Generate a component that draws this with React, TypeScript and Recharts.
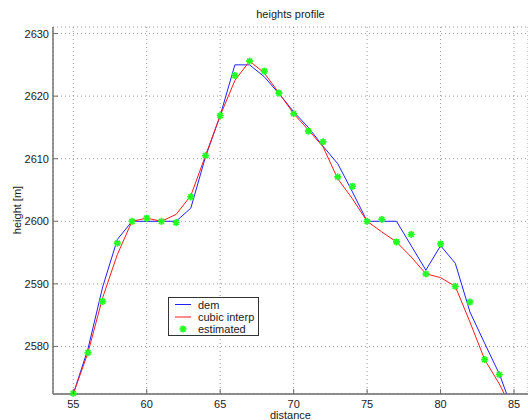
import React from "react";
import {
  ComposedChart,
  Line,
  Scatter,
  XAxis,
  YAxis,
  CartesianGrid,
} from "recharts";

const distance = [55, 56, 57, 58, 59, 60, 61, 62, 63, 64, 65, 66, 67, 68, 69, 70, 71, 72, 73, 74, 75, 76, 77, 78, 79, 80, 81, 82, 83, 84, 85];
const dem = [2572.4, 2579.6, 2589.5, 2597.1, 2600, 2600, 2600, 2600, 2602.1, 2610.3, 2616.9, 2625.0, 2625.0, 2623.1, 2620.4, 2617.5, 2615.0, 2612.0, 2609.2, 2604.7, 2600, 2600, 2600, 2596.1, 2592.2, 2596.1, 2593.3, 2585.5, 2580.5, 2575.6, 2569.2];
const cubicInterp = [2572.4, 2579.0, 2587.8, 2594.7, 2600.0, 2600.5, 2600.0, 2601.1, 2604.1, 2610.5, 2616.9, 2622.5, 2625.6, 2623.7, 2620.5, 2617.2, 2614.6, 2611.9, 2606.8, 2603.6, 2600.0, 2598.3, 2596.7, 2594.3, 2591.6, 2591.0, 2589.6, 2583.9, 2577.9, 2574.0, 2569.3];
const estimated = [2572.5, 2579.0, 2587.2, 2596.5, 2600.0, 2600.5, 2600.0, 2599.8, 2603.9, 2610.5, 2616.9, 2623.3, 2625.6, 2624.0, 2620.5, 2617.2, 2614.4, 2612.7, 2607.1, 2605.6, 2600.0, 2600.3, 2596.7, 2597.9, 2591.6, 2596.4, 2589.6, 2587.1, 2577.9, 2575.5];

const xTicks = [55, 60, 65, 70, 75, 80, 85];
const yTicks = [2580, 2590, 2600, 2610, 2620, 2630];

const lineData = distance.map((d, i) => ({ x: d, dem: dem[i], interp: cubicInterp[i] }));
const estData = estimated.map((v, i) => ({ x: distance[i], est: v }));

const FONT = '"Liberation Sans", Arial, Helvetica, sans-serif';
const AXIS = "#6a6a6a";
const TXT = "#1a1a1a";
const BLUE = "#2020ff";
const RED = "#ff1a1a";
const GREEN = "#22ff22";
const X_DOMAIN = [53.62, 85.95];
const Y_DOMAIN = [2572.4, 2631.05];

const BottomTick = (props: any) => {
  const { x, y, payload } = props;
  return (
    <g>
      <line x1={x} x2={x} y1={y} y2={y - 5} stroke={AXIS} strokeWidth={1} />
      <text x={x} y={y + 13.5} textAnchor="middle" fontSize={11} fontFamily={FONT} fill={TXT}>
        {payload.value}
      </text>
    </g>
  );
};

const TopTick = (props: any) => {
  const { x, y } = props;
  return <line x1={x} x2={x} y1={y} y2={y + 5} stroke={AXIS} strokeWidth={1} />;
};

const LeftTick = (props: any) => {
  const { x, y, payload } = props;
  return (
    <g>
      <line x1={x} x2={x + 5} y1={y} y2={y} stroke={AXIS} strokeWidth={1} />
      <text x={x - 4} y={y + 4} textAnchor="end" fontSize={11} fontFamily={FONT} fill={TXT}>
        {payload.value}
      </text>
    </g>
  );
};

const Asterisk = (props: any) => {
  const { cx, cy } = props;
  if (cx == null || cy == null) return null;
  const r = 3.5;
  const d = r * 0.72;
  return (
    <g stroke={GREEN} strokeWidth={1.8}>
      <line x1={cx - r} x2={cx + r} y1={cy} y2={cy} />
      <line x1={cx} x2={cx} y1={cy - r} y2={cy + r} />
      <line x1={cx - d} x2={cx + d} y1={cy - d} y2={cy + d} />
      <line x1={cx - d} x2={cx + d} y1={cy + d} y2={cy - d} />
    </g>
  );
};

export default function App() {
  return (
    <div style={{ position: "absolute", left: 0, top: 0, width: 528, height: 420, background: "#fff", fontFamily: FONT }}>
      <ComposedChart
        width={528}
        height={420}
        margin={{ top: 27, right: 0, bottom: 0, left: 8 }}
        data={lineData}
      >
        <CartesianGrid stroke="#999" strokeDasharray="1 3" vertical={true} horizontal={true} />
        <XAxis
          xAxisId={0}
          dataKey="x"
          type="number"
          domain={X_DOMAIN}
          ticks={xTicks}
          height={26}
          tickSize={0}
          tickMargin={0}
          tickLine={false}
          tick={<BottomTick />}
          axisLine={{ stroke: AXIS, strokeWidth: 1.4 }}
          interval={0}
        />
        <XAxis
          xAxisId="top"
          orientation="top"
          dataKey="x"
          type="number"
          domain={X_DOMAIN}
          ticks={xTicks}
          height={0}
          tickSize={0}
          tickMargin={0}
          tickLine={false}
          tick={<TopTick />}
          axisLine={{ stroke: AXIS, strokeWidth: 1.4 }}
          interval={0}
        />
        <YAxis
          yAxisId={0}
          type="number"
          domain={Y_DOMAIN}
          allowDataOverflow={true}
          ticks={yTicks}
          width={45}
          tickSize={0}
          tickMargin={0}
          tickLine={false}
          tick={<LeftTick />}
          axisLine={{ stroke: AXIS, strokeWidth: 1.4 }}
          interval={0}
        />
        <YAxis yAxisId="s" type="number" domain={Y_DOMAIN} hide={true} />
        <Line
          dataKey="dem"
          stroke={BLUE}
          strokeWidth={1}
          dot={false}
          activeDot={false}
          isAnimationActive={false}
          type="linear"
        />
        <Line
          dataKey="interp"
          stroke={RED}
          strokeWidth={1}
          dot={false}
          activeDot={false}
          isAnimationActive={false}
          type="linear"
        />
        <Scatter
          yAxisId="s"
          data={estData}
          dataKey="est"
          shape={<Asterisk />}
          isAnimationActive={false}
        />
      </ComposedChart>

      <div style={{ position: "absolute", left: 53, width: 475, top: 8, textAlign: "center", fontSize: 11, color: TXT, lineHeight: "13px" }}>
        heights profile
      </div>
      <div style={{ position: "absolute", left: 53, width: 475, top: 410, textAlign: "center", fontSize: 11, color: TXT, lineHeight: "11px" }}>
        distance
      </div>
      <div
        style={{
          position: "absolute",
          left: 17,
          top: 210,
          transform: "translate(-50%, -50%) rotate(-90deg)",
          fontSize: 11,
          color: TXT,
          whiteSpace: "nowrap",
          lineHeight: "14px",
        }}
      >
        height [m]
      </div>

      <svg style={{ position: "absolute", left: 168, top: 297 }} width={91} height={39}>
        <rect x={0.5} y={0.5} width={90} height={38} fill="#fff" stroke="#333" strokeWidth={1} />
        <line x1={7} x2={23} y1={7.5} y2={7.5} stroke={BLUE} strokeWidth={1} />
        <text x={30} y={11.5} fontSize={11} fontFamily={FONT} fill={TXT}>dem</text>
        <line x1={7} x2={23} y1={20} y2={20} stroke={RED} strokeWidth={1} />
        <text x={30} y={24} fontSize={11} fontFamily={FONT} fill={TXT}>cubic interp</text>
        <Asterisk cx={15} cy={32} />
        <text x={30} y={36} fontSize={11} fontFamily={FONT} fill={TXT}>estimated</text>
      </svg>
    </div>
  );
}
